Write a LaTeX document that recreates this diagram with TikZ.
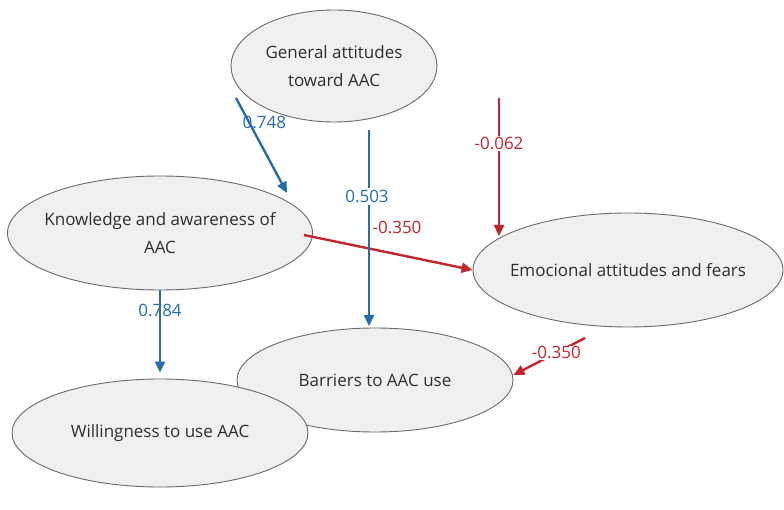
\documentclass[tikz,border=0pt]{standalone}
\usepackage{fontspec}
\setmainfont{Open Sans}
\usetikzlibrary{shapes.geometric,arrows.meta,calc}
\definecolor{pblue}{HTML}{2A6CA6}
\definecolor{pred}{HTML}{C0262C}
\definecolor{efill}{HTML}{F0F0F0}
\definecolor{eline}{HTML}{6A6A6A}
\begin{document}
\begin{tikzpicture}[x=1pt,y=1pt,
  oval/.style={ellipse,draw=eline,line width=0.9pt,fill=efill,inner xsep=-80pt,inner ysep=-30pt,align=center,
    font=\fontsize{17}{27.5}\selectfont,text=black!82},
  barrow/.style={draw=pblue,line width=2.4pt,-{Triangle[length=11pt,width=10pt]}},
  rarrow/.style={draw=pred,line width=2.4pt,-{Triangle[length=11pt,width=10pt]}},
  blab/.style={font=\fontsize{17}{20}\selectfont,text=pblue,inner sep=1.5pt},
  rlab/.style={font=\fontsize{17}{20}\selectfont,text=pred,inner sep=1.5pt}]
\useasboundingbox (0,0) rectangle (784,509);
\fill[white] (0,0) rectangle (784,509);
% nodes
\node[oval,minimum width=206pt,minimum height=112pt] (gen) at (334,443) {General attitudes\\toward AAC};
\node[oval,minimum width=305pt,minimum height=114pt] (know) at (160,276) {Knowledge and awareness of\\AAC};
\node[oval,minimum width=310pt,minimum height=114pt] (emo) at (628,239) {Emocional attitudes and fears};
\node[oval,minimum width=276pt,minimum height=104pt] (bar) at (375,129) {Barriers to AAC use};
\node[oval,minimum width=296pt,minimum height=108pt] (will) at (160,76) {Willingness to use AAC};
% free ends
\coordinate (g2) at ($(gen.center)+(165,-32)$);
\coordinate (e2) at ($(emo.center)+(-43,-68)$);
% connectors
\draw[rarrow] ($(know.east)+(-9,-2)$) -- (emo.west);
\node[rlab] (l4) at (397,282) {-0.350};
\draw[barrow] ($(gen.center)+(-98,-32)$) -- ($(know.center)+(127,40)$)
  node[blab,pos=0.26,xshift=15pt] (l1) {0.748};
\draw[barrow] ($(gen.center)+(35,-64)$) -- ($(bar.center)+(-6,54)$)
  node[blab,pos=0.34,fill=white,inner sep=2pt,xshift=-2pt] (l2) {0.503};
\draw[rarrow] (g2) -- ($(emo.center)+(-129,34)$)
  node[rlab,pos=0.33,fill=white] (l3) {-0.062};
\node[blab] (l5) at (160,199) {0.784};
\draw[barrow] (know.south) -- ($(will.north)+(0,6)$);
\draw[rarrow] (e2) -- ($(bar.east)+(0,5)$)
  node[rlab,pos=0.4,fill=white,inner sep=1pt] (l6) {-0.350};
\end{tikzpicture}
\end{document}
